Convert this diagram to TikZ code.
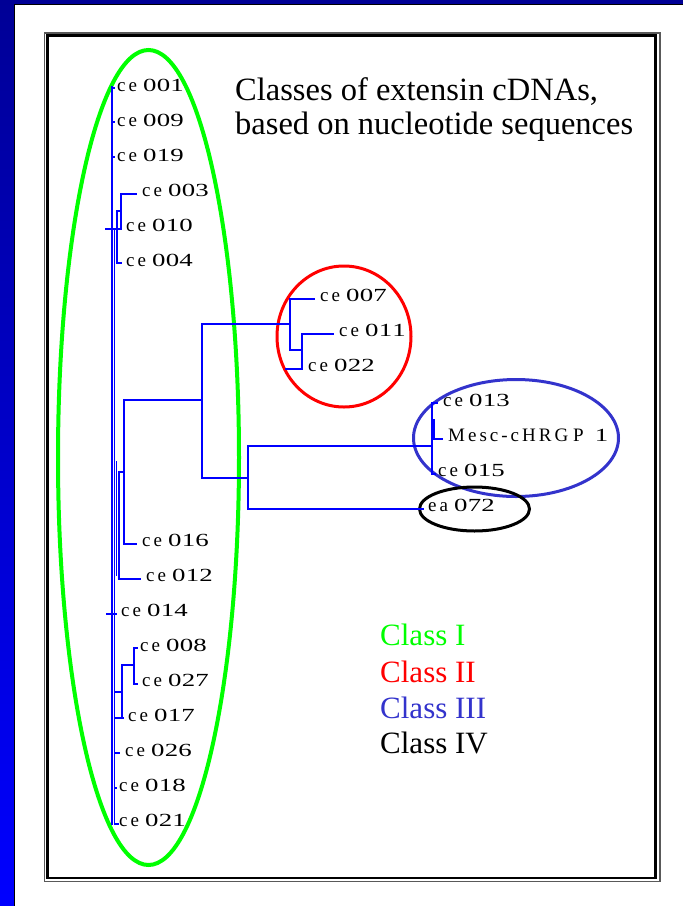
\documentclass[tikz,border=0pt]{standalone}
\usepackage{fontspec}
\setmainfont{Liberation Serif}
\newfontfamily\digfont[FakeStretch=1.45]{Liberation Serif}
\newlength\lsp
\setlength\lsp{3pt}
\def\spc#1{\spci#1\relax}
\def\spci#1{\ifx#1\relax\else#1\kern\lsp\expandafter\spci\fi}
\newcommand\lbl[2]{\spc{#1}\kern3pt{\digfont\fontsize{18.5}{20}\selectfont\setlength\lsp{0.3pt}\spc{#2}}}
\definecolor{bandtop}{RGB}{0,0,150}
\definecolor{bandbot}{RGB}{0,0,255}
\definecolor{treeblue}{RGB}{0,0,255}
\definecolor{clsgreen}{RGB}{0,255,0}
\definecolor{clsred}{RGB}{255,0,0}
\definecolor{clsblue}{RGB}{51,51,204}
\tikzset{
  tree/.style={draw=treeblue, line width=1.6pt, line cap=rect},
  lab/.style={font=\fontsize{19}{20}\selectfont, inner sep=0pt, anchor=base west},
  big/.style={font=\fontsize{31}{35}\selectfont, inner sep=0pt, anchor=base west},
  ttl/.style={font=\fontsize{32.5}{35}\selectfont, inner sep=0pt, anchor=base west},
  ring/.style={line width=3pt},
}
\begin{document}
\begin{tikzpicture}[x=1pt,y=-1pt]
\useasboundingbox (0,0) rectangle (683,906);
\fill[white] (0,0) rectangle (683,906);
% blue page bands
\shade[top color=bandtop, bottom color=bandbot] (0,0) rectangle (14,906);
\fill[bandtop] (0,0) rectangle (683,4);
\draw[black, line width=1pt] (14.5,906) -- (14.5,4.5) -- (683,4.5);
% frame
\draw[black!65, line width=1.5pt] (44.3,32.8) rectangle (659.8,881.5);
\draw[black, line width=2.6pt] (47.7,35.5) rectangle (655.5,878);

% class outlines
\draw[clsgreen, line width=4pt] (148.5,457.5) ellipse [x radius=90.5pt, y radius=407.5pt];
\draw[clsred, ring] (344,336.5) ellipse [x radius=67pt, y radius=70.5pt];
\draw[clsblue, ring] (516,438) ellipse [x radius=102.5pt, y radius=58.5pt];
\draw[black, ring] (474.5,509) ellipse [x radius=55pt, y radius=22pt];

% title
\node[ttl] (title1) at (235,100) {Classes of extensin cDNAs,};
\node[ttl] (title2) at (235,134) {based on nucleotide sequences};

% legend
\node[big, text=clsgreen] (leg1) at (380,645) {Class I};
\node[big, text=clsred] (leg2) at (380,682) {Class II};
\node[big, text=clsblue] (leg3) at (380,718) {Class III};
\node[big, text=black] (leg4) at (380,753) {Class IV};

% leaf labels (baseline = 91 + 35 i)
\node[lab] (ce001) at (117,91) {\lbl{ce}{001}};
\node[lab] (ce009) at (117,126) {\lbl{ce}{009}};
\node[lab] (ce019) at (117,161) {\lbl{ce}{019}};
\node[lab] (ce003) at (142,196) {\lbl{ce}{003}};
\node[lab] (ce010) at (126,231) {\lbl{ce}{010}};
\node[lab] (ce004) at (126,266) {\lbl{ce}{004}};
\node[lab] (ce007) at (320,301) {\lbl{ce}{007}};
\node[lab] (ce011) at (339,336) {\lbl{ce}{011}};
\node[lab] (ce022) at (308,371) {\lbl{ce}{022}};
\node[lab] (ce013) at (443,406) {\lbl{ce}{013}};
\node[lab] (mesc) at (448,441) {\spc{Mesc-cHRG}\kern2pt P\kern11pt{\digfont\fontsize{18.5}{20}\selectfont 1}};
\node[lab] (ce015) at (438,476) {\lbl{ce}{015}};
\node[lab] (ea072) at (428,511) {\lbl{ea}{072}};
\node[lab] (ce016) at (142,546) {\lbl{ce}{016}};
\node[lab] (ce012) at (146,581) {\lbl{ce}{012}};
\node[lab] (ce014) at (121,616) {\lbl{ce}{014}};
\node[lab] (ce008) at (140,651) {\lbl{ce}{008}};
\node[lab] (ce027) at (142,686) {\lbl{ce}{027}};
\node[lab] (ce017) at (128,721) {\lbl{ce}{017}};
\node[lab] (ce026) at (125,756) {\lbl{ce}{026}};
\node[lab] (ce018) at (119,791) {\lbl{ce}{018}};
\node[lab] (ce021) at (119,826) {\lbl{ce}{021}};

% dendrogram
\draw[tree] (112,87) -- (112,824);
\draw[tree] (114.5,229) -- (114.5,824);
\draw[tree] (112,88) -- (114,88) (112,122) -- (114,122) (112,157) -- (114,157);
% ce003 / ce010 / ce004
\draw[tree] (106,229) -- (121,229);
\draw[tree] (117,211) -- (117,263) -- (121,263);
\draw[tree] (117,211) -- (121,211);
\draw[tree] (136,194) -- (121,194) -- (121,229);
% class II and class III / IV branch
\draw[tree] (124,544) -- (124,400) -- (202,400);
\draw[tree] (124,544) -- (136,544);
\draw[tree] (202,324) -- (202,478);
\draw[tree] (202,324) -- (290,324);
\draw[tree] (314,299) -- (290,299) -- (290,350) -- (302,350);
\draw[tree] (333,334) -- (302,334) -- (302,369) -- (286,369);
\draw[tree] (202,478) -- (248,478);
\draw[tree] (432,446) -- (248,446) -- (248,509) -- (423,509);
\draw[tree] (437,403) -- (432,403) -- (432,474) -- (435,474);
\draw[tree] (434,420) -- (434,439) -- (442,439);
% lower class I
\draw[tree] (124,472) -- (119,472) -- (119,579) -- (140,579);
\draw[tree] (116.5,462) -- (116.5,575);
\draw[tree] (107,614) -- (116,614);
\draw[tree] (137,648) -- (134,648) -- (134,684) -- (137,684);
\draw[tree] (134,665) -- (122,665) -- (122,718);
\draw[tree] (114.5,692) -- (122,692);
\draw[tree] (114.5,718) -- (123,718);
\draw[tree] (114.5,753) -- (119,753);
\draw[tree] (114.5,788) -- (116,788);
\draw[tree] (114.5,824) -- (118,824);
\end{tikzpicture}
\end{document}
